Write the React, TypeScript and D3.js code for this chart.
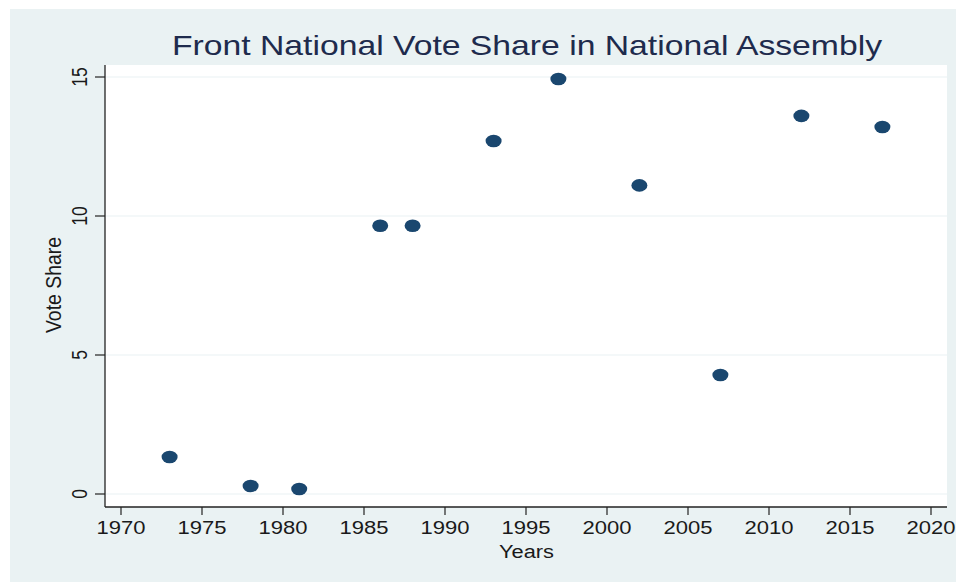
import * as d3 from "d3";

const YEARS = [1973, 1978, 1981, 1986, 1988, 1993, 1997, 2002, 2007, 2012, 2017];
const VOTE_SHARE = [1.33, 0.29, 0.18, 9.65, 9.65, 12.7, 14.93, 11.1, 4.28, 13.6, 13.2];
const X_TICKS = [1970, 1975, 1980, 1985, 1990, 1995, 2000, 2005, 2010, 2015, 2020];
const Y_TICKS = [0, 5, 10, 15];

const TITLE = "Front National Vote Share in National Assembly";
const BG = "#eaf2f3";
const NAVY = "#1a476f";
const TEXT = "#1a1a1a";
const FONT = "'Liberation Sans', Arial, sans-serif";

const W = 956;
const H = 583;

const App = () => {
  const x = d3.scaleLinear().domain([1970, 2020]).range([121, 931]);
  const y = d3.scaleLinear().domain([0, 15]).range([494, 77]);

  const plot = { left: 105, right: 947, top: 65, bottom: 507 };

  return (
    <svg
      width={W}
      height={H}
      style={{ position: "absolute", left: 0, top: 0 }}
    >
      <rect x={0} y={0} width={W} height={H} fill="#ffffff" />
      <rect x={10} y={9} width={W - 10} height={H - 10} fill={BG} />

      {/* plot region */}
      <rect
        x={plot.left}
        y={plot.top}
        width={plot.right - plot.left}
        height={plot.bottom - plot.top}
        fill="#ffffff"
      />

      {/* gridlines */}
      {Y_TICKS.map((t) => (
        <line
          key={`g${t}`}
          x1={plot.left}
          x2={plot.right}
          y1={y(t)}
          y2={y(t)}
          stroke={BG}
          strokeWidth={1.2}
        />
      ))}

      {/* y axis */}
      <line x1={plot.left} x2={plot.left} y1={plot.top} y2={plot.bottom} stroke="#222" strokeWidth={1.3} />
      {Y_TICKS.map((t) => (
        <g key={`y${t}`}>
          <line x1={plot.left - 10} x2={plot.left} y1={y(t)} y2={y(t)} stroke="#222" strokeWidth={1.2} />
          <text
            transform={`translate(87,${y(t)}) rotate(-90) scale(1,1.25)`}
            textAnchor="middle"
            fontFamily={FONT}
            fontSize={17.5}
            fill={TEXT}
          >
            {t}
          </text>
        </g>
      ))}
      <text
        transform="translate(61,285) rotate(-90) scale(1,1.2)"
        textAnchor="middle"
        fontFamily={FONT}
        fontSize={18}
        fill={TEXT}
        textLength={96}
        lengthAdjust="spacingAndGlyphs"
      >
        Vote Share
      </text>

      {/* x axis */}
      <line x1={plot.left} x2={plot.right} y1={plot.bottom} y2={plot.bottom} stroke="#222" strokeWidth={1.3} />
      {X_TICKS.map((t) => (
        <g key={`x${t}`}>
          <line x1={x(t)} x2={x(t)} y1={plot.bottom} y2={plot.bottom + 8} stroke="#222" strokeWidth={1.2} />
          <text
            x={x(t)}
            y={534}
            textAnchor="middle"
            fontFamily={FONT}
            fontSize={17.5}
            fill={TEXT}
            textLength={49}
            lengthAdjust="spacingAndGlyphs"
          >
            {t}
          </text>
        </g>
      ))}
      <text
        x={526.5}
        y={558}
        textAnchor="middle"
        fontFamily={FONT}
        fontSize={18}
        fill={TEXT}
        textLength={55}
        lengthAdjust="spacingAndGlyphs"
      >
        Years
      </text>

      {/* title */}
      <text
        x={527}
        y={55}
        textAnchor="middle"
        fontFamily={FONT}
        fontSize={28}
        fill="#1e2b4d"
        textLength={710}
        lengthAdjust="spacingAndGlyphs"
      >
        {TITLE}
      </text>

      {/* points */}
      {YEARS.map((yr, i) => (
        <ellipse
          key={yr}
          cx={x(yr)}
          cy={y(VOTE_SHARE[i])}
          rx={8}
          ry={6.3}
          fill={NAVY}
        />
      ))}
    </svg>
  );
};

export default App;
